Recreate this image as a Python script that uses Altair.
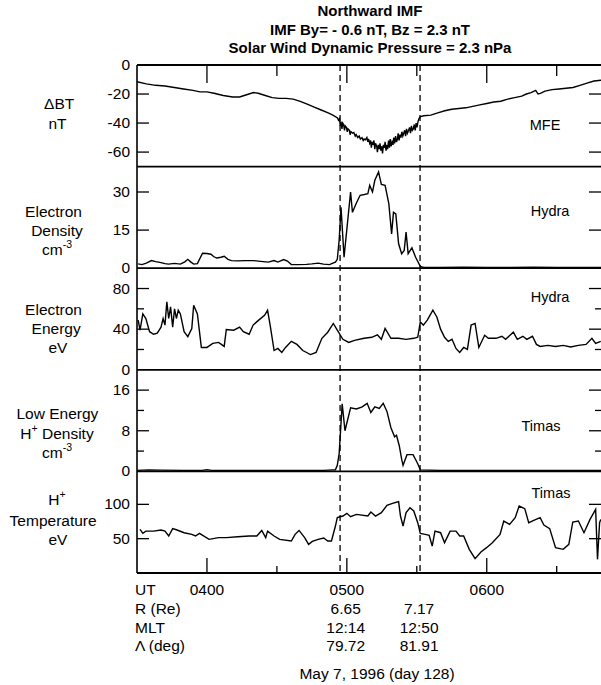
import altair as alt
import pandas as pd

FONT = "Liberation Sans"

# ---- time series (UT in minutes after 00:00) ----
bt_ut = [210, 214, 218, 222, 226, 230, 234, 237, 240, 243, 247, 251, 254, 257, 260, 262, 265, 268,
         271, 274, 277, 280, 283, 286, 289, 292, 294,
         296, 296.4, 296.8, 297.2, 297.5, 297.9, 298.2, 298.6, 299, 299.3, 299.8, 300.2, 300.5,
         301.1, 301.4, 301.8, 302.5, 303, 303.6, 304, 304.7, 305.3, 305.8, 306.5, 307, 307.4, 308,
         308.6, 309, 309.3, 309.8, 310.2, 310.5, 310.9, 311.3, 311.6, 312, 312.3, 312.8, 313.1,
         313.5, 313.9, 314.2, 314.6, 315, 315.3, 315.7, 316.1, 316.4, 316.8, 317.2, 317.5, 317.9,
         318.3, 318.6, 319, 319.4, 319.8, 320.1, 320.5, 320.9, 321.3, 321.7, 322, 322.4, 322.8,
         323.2, 323.6, 324, 324.4, 324.8, 325.2, 325.6, 326, 326.5, 326.9, 327.3, 327.7, 328.1,
         328.5, 328.9, 329.3, 329.7, 330.1, 330.5, 330.9, 331.3, 331.6,
         333, 336, 339, 342, 345, 348, 351, 354, 357, 360, 363, 366, 369, 372,
         375, 377, 379, 381, 382, 383, 385, 388, 391, 394, 397, 400, 403, 406, 409]
bt_nt = [-11.5, -13, -14, -14.5, -15.5, -16.5, -17.5, -18.5, -18.5, -19.5, -21, -22, -22, -20.5,
         -19, -19.5, -21, -22.5, -23, -23, -23.5, -25, -27, -29, -31, -33, -34.5,
         -36.5, -38, -37, -42, -39, -44, -40, -41, -45, -42, -43, -46, -44,
         -45, -48, -46, -47, -46.5, -49, -48, -50, -49, -51, -50, -52, -51, -51.5,
         -50, -53, -51, -54, -52, -57, -53, -55, -52, -58, -54, -56, -60,
         -55, -58, -54, -59, -56, -61, -55, -57, -53, -59, -55, -58, -52,
         -57, -51, -56, -53, -55, -50, -54, -49, -53, -51, -47, -52, -48,
         -50, -46, -49, -47, -45, -49, -44, -47, -45, -43, -47, -42, -45,
         -44, -41, -45, -40, -43, -39, -37, -36, -35.5,
         -35, -34.5, -33, -31.5, -30.5, -30, -29.5, -28.5, -27.5, -26.5, -25.5, -25, -23.5, -22.5,
         -21.5, -20, -19, -17.5, -20, -19.5, -18, -17, -16.5, -16, -15.5, -14, -12.5, -11, -10.5]

ne_ut = [210.5, 212.1, 214, 216.2, 218, 220.3, 222, 223.6, 226, 228.6, 230.5, 231.8, 233, 234.3,
         235.9, 238.1, 240, 241.7, 243, 244.2, 246, 247.4, 249, 250.5, 253, 256.5, 259.8, 263,
         266.3, 268.8, 270.4, 272.9, 274.5, 276.2, 279, 282.7, 285, 287.7, 290, 292.6, 294, 295.1,
         295.9, 296.7, 297.5, 298.8, 301.6, 302.4, 304, 305.7, 307.5, 309, 309.8, 311, 312, 313.6,
         314.8, 316.4, 318, 319.2, 320, 321, 322.2, 323.5, 324.6, 325.4, 326.3, 327.9, 329.5,
         331.5, 333, 340, 350, 360, 370, 380, 390, 400, 409]
ne_cm3 = [1.7, 1.4, 2, 3, 2.6, 2.2, 1.8, 1.6, 1.9, 1.6, 2.5, 3.5, 2.5, 1.6, 1.8, 5.9, 5.8, 5.5, 4.5,
          4, 4.3, 4.7, 3.5, 3, 2.9, 3, 3, 2.7, 2.4, 3, 2.4, 3.4, 2.8, 1.4, 1.4, 1.5, 1.7, 2, 1.6,
          1.4, 2, 2.4, 3.5, 11, 24, 4.3, 30, 22, 25.5, 28.7, 29, 29.3, 32.6, 30, 34.6, 37.9, 33,
          32.6, 25.4, 13.5, 22, 21.4, 9.6, 5.7, 7, 14.2, 5.7, 8, 4.3, 0.7, 0.3, 0.3, 0.35, 0.3,
          0.3, 0.35, 0.3, 0.3, 0.3]

ee_ut = [210.5, 211.3, 212.5, 213.8, 215.4, 217.1, 218.7, 220.3, 221.2, 222, 222.8, 223.6, 224.4,
         225.3, 226.1, 226.9, 227.7, 228.6, 230.2, 231.8, 233.5, 234.3, 235.9, 237.6, 240, 242.5,
         245, 247.4, 248.3, 251.5, 254, 255.6, 258.1, 259.8, 262.2, 264.7, 266, 267.1, 268.8,
         270.4, 272.1, 273.7, 276.2, 278.6, 281.1, 284.4, 286.8, 289.3, 291.8, 294.2, 295.9,
         298.3, 300.8, 303.3, 307.4, 310.7, 313.1, 314.8, 316.4, 318.9, 322.2, 325.4, 328.7,
         330.4, 331.5, 332.8, 334.5, 336.9, 338.6, 340.2, 341.9, 343.5, 345.1, 346.8, 348.4,
         350.1, 351.7, 353.3, 355, 356.6, 359.1, 360.7, 364, 366.5, 368.1, 371.4, 373.1, 375.5,
         377.2, 379.6, 381.3, 382.9, 386.2, 389.5, 392.8, 396, 399.3, 402.6, 405.1, 406.7, 408.9]
ee_ev = [48.9, 39, 55, 50.5, 37.5, 35, 36, 42, 50.5, 44, 66.8, 50.5, 62, 42, 60, 50.5, 58.6, 55,
         37.5, 32.6, 40.7, 63.5, 55, 22, 22, 26, 27, 23, 39.7, 39, 42, 37.5, 35, 44, 48.9, 53.7,
         58.6, 44, 19, 21, 17, 22, 28, 25, 19, 15, 17, 31, 37, 45.6, 39, 30, 27, 29, 31, 32, 34.5,
         30, 40.7, 31, 31, 30, 31, 32, 47, 44, 48.9, 58.6, 52, 40, 32, 28, 30, 21, 17, 22, 20, 44,
         45.6, 22, 34, 31, 31, 33, 30, 37, 30, 33, 30, 33, 25, 23, 24, 23, 24, 22.5, 24, 25, 31,
         26, 28]

hd_ut = [210, 215, 220, 230, 238, 240, 242, 260, 280, 290, 294, 295.1, 295.9, 296.7, 298, 299.2,
         301.6, 304.1, 306.6, 308.7, 310.3, 312, 313.9, 315.6, 317.2, 318.9, 320.5, 321.3, 322.5,
         323.5, 324.1, 325.8, 328.4, 330.4, 331.5, 340, 360, 380, 409]
hd_cm3 = [0.2, 0.3, 0.25, 0.2, 0.2, 0.35, 0.2, 0.2, 0.2, 0.2, 0.3, 0.3, 1.2, 3.5, 13.3, 8, 12.5,
          12.3, 12.7, 13.4, 11.6, 12.7, 12.4, 13.4, 11.8, 8.6, 6.8, 7.1, 5, 2.4, 1.2, 3.3, 3.3,
          1.5, 0.3, 0.2, 0.2, 0.2, 0.2]

ht_ut = [211.3, 212.5, 213.8, 217.1, 220.3, 222, 223.6, 225.3, 226.9, 230.2, 233.5, 235.1, 236.8,
         240.9, 245, 248.3, 253.2, 258.1, 261.4, 263.5, 265.2, 266, 268.8, 271.2, 276.2, 277.8,
         279.5, 281.9, 283.6, 285.2, 287.7, 290.1, 291.8, 293.4, 295.1, 295.9, 298.3, 300, 301.6,
         304.1, 309, 310.3, 312.3, 314.8, 317.2, 320.5, 322.2, 323, 324.1, 325.4, 327.1, 328.7,
         330.4, 331.5, 333.6, 335.3, 336.6, 337.8, 340.2, 341.9, 344.3, 346.8, 348.4, 350.1,
         352.5, 355, 357.5, 359.9, 362.4, 365.7, 367.3, 369.8, 372.2, 373.9, 376.3, 378, 380.4,
         382.9, 384.5, 387, 389.5, 392.8, 395.2, 396.9, 399.3, 401.7, 404.3, 406.7, 407.5,
         408.4, 408.9]
ht_ev = [63.6, 57.8, 61, 61, 62.6, 61, 53.9, 64.6, 63, 58.7, 56.3, 53.9, 57.8, 49, 51.5, 51.5,
         52.9, 53.9, 53.9, 62, 51.5, 61, 53.9, 49, 46.6, 56.3, 62, 51.5, 41.7, 46, 49, 51, 46.6,
         46.6, 68.4, 80.6, 83, 86.9, 82, 85.4, 83, 88.8, 83, 87.9, 98.5, 102.4, 103.9, 83, 68.4,
         87.9, 95.1, 90.3, 73.3, 57.8, 56.3, 55, 39.3, 61, 58.7, 44.2, 61, 61, 53.9, 53.9, 34.5,
         20.9, 30.6, 36.9, 44.2, 56.3, 75.7, 70.9, 80.6, 97.6, 93.7, 73.3, 77, 80.6, 69.9, 64.6,
         36.9, 34.5, 41.7, 74.3, 75.7, 58.7, 78.1, 92.7, 19.9, 73.3, 78]

# boundary crossings and orbit annotations
boundary_ut = [297.1, 331.4]
orbit_ut = [299.5, 331.0]
orbit_r = ["6.65", "7.17"]
orbit_mlt = ["12:14", "12:50"]
orbit_lat = ["79.72", "81.91"]

ut_major = [240, 300, 360]
ut_major_lab = ["0400", "0500", "0600"]
ut_minor = [270, 330, 390]

# ---- layout ----
W, H = 464, 508
NP = 5
PH = H / NP
FS = 15.5
SUP = 10.5
X = alt.Scale(domain=[210, 409], nice=False, zero=False)

# approximate advance widths (em) of the sans font, for placing superscripts
ADV = {"c": .5, "m": .833, "-": .333, "3": .556, "H": .722, "+": .584, " ": .278, "D": .722,
       "e": .556, "n": .556, "s": .5, "i": .222, "t": .278, "y": .5}


def width(s, size):
    return sum(ADV.get(ch, .556) for ch in s) * size


def xq():
    return alt.X("t:Q", scale=X, axis=None)


def txt(text, x, y, align="center", size=FS, weight="normal", dy=0):
    return alt.Chart(pd.DataFrame({"s": [text]})).mark_text(
        font=FONT, fontSize=size, fontWeight=weight, align=align, baseline="middle",
        color="black", dy=dy
    ).encode(x=alt.value(x), y=alt.value(y), text="s:N")


def rich(parts, cx, y):
    """Centered line made of normal and superscript pieces."""
    total = sum(width(s, SUP if sup else FS) for s, sup in parts)
    x = cx - total / 2
    out = []
    for s, sup in parts:
        size = SUP if sup else FS
        lead = len(s) - len(s.lstrip(" "))
        x += width(" " * lead, size)
        body = s.strip(" ")
        out.append(txt(body, x, y, align="left", size=size, dy=-5 if sup else 0))
        x += width(body, size)
    return out


def panel(i, ut, val, domain, labels, major, minor, title_lines, inst, inst_xy):
    top, bot = i * PH, (i + 1) * PH
    ys = alt.Scale(domain=domain, range=[bot, top], nice=False, zero=False)

    def yq():
        return alt.Y("v:Q", scale=ys, axis=None)

    layers = [
        alt.Chart(pd.DataFrame({"t": ut, "v": val}))
        .mark_line(color="black", strokeWidth=1.4, clip=True)
        .encode(x=xq(), y=yq())
    ]
    mdf = pd.DataFrame({"v": major})
    layers.append(alt.Chart(mdf).mark_rule(color="black", strokeWidth=1.3)
                  .encode(x=alt.value(0), x2=alt.value(12), y=yq()))
    layers.append(alt.Chart(mdf).mark_rule(color="black", strokeWidth=1.3)
                  .encode(x=alt.value(W - 12), x2=alt.value(W), y=yq()))
    if minor:
        ndf = pd.DataFrame({"v": minor})
        layers.append(alt.Chart(ndf).mark_rule(color="black", strokeWidth=1.3)
                      .encode(x=alt.value(0), x2=alt.value(7), y=yq()))
        layers.append(alt.Chart(ndf).mark_rule(color="black", strokeWidth=1.3)
                      .encode(x=alt.value(W - 6), x2=alt.value(W), y=yq()))
    ldf = pd.DataFrame({"v": labels, "s": [f"{v:g}" for v in labels]})
    layers.append(alt.Chart(ldf).mark_text(font=FONT, fontSize=FS, align="right",
                                           baseline="middle", color="black")
                  .encode(x=alt.value(-7), y=yq(), text="s:N"))
    for parts, yy in title_lines:
        layers += rich(parts, -80, yy)
    layers.append(txt(inst, inst_xy[0], inst_xy[1], size=14.5))
    return alt.layer(*layers)


CM3 = [("cm", False), ("-3", True)]
panels = [
    panel(0, bt_ut, bt_nt, [-70, 0], [0, -20, -40, -60], [-20, -40, -60], [],
          [([("ΔBT", False)], 39), ([("nT", False)], 59)], "MFE", (408, 61)),
    panel(1, ne_ut, ne_cm3, [0, 40], [0, 15, 30], [15, 30], [],
          [([("Electron", False)], 147), ([("Density", False)], 165.5), (CM3, 185)],
          "Hydra", (413, 147)),
    panel(2, ee_ut, ee_ev, [0, 100], [0, 40, 80], [40, 80], [20, 60],
          [([("Electron", False)], 245), ([("Energy", False)], 264), ([("eV", False)], 283)],
          "Hydra", (413, 233)),
    panel(3, hd_ut, hd_cm3, [0, 20], [0, 8, 16], [8, 16], [4, 12],
          [([("Low Energy", False)], 349), ([("H", False), ("+", True), (" Density", False)], 369),
           (CM3, 387.5)],
          "Timas", (404, 362)),
    panel(4, ht_ut, ht_ev, [0, 148], [50, 100], [50, 100], [],
          [([("H", False), ("+", True)], 435), ([("Temperature", False)], 455.5),
           ([("eV", False)], 474.5)],
          "Timas", (414, 429)),
]

frame = []
# panel separators and outer frame
for k in range(NP + 1):
    frame.append(alt.Chart(pd.DataFrame({"d": [0]})).mark_rule(color="black", strokeWidth=1.8)
                 .encode(x=alt.value(0), x2=alt.value(W), y=alt.value(k * PH)))
frame.append(alt.Chart(pd.DataFrame({"d": [0]})).mark_rule(color="black", strokeWidth=1.6)
             .encode(x=alt.value(0), y=alt.value(0), y2=alt.value(H)))

# UT ticks on top and bottom edges
maj = pd.DataFrame({"t": ut_major, "s": ut_major_lab})
mnr = pd.DataFrame({"t": ut_minor})
frame += [
    alt.Chart(maj).mark_rule(color="black", strokeWidth=1.3).encode(x=xq(), y=alt.value(0), y2=alt.value(18)),
    alt.Chart(mnr).mark_rule(color="black", strokeWidth=1.3).encode(x=xq(), y=alt.value(0), y2=alt.value(11)),
    alt.Chart(maj).mark_rule(color="black", strokeWidth=1.3).encode(x=xq(), y=alt.value(H - 15), y2=alt.value(H)),
    alt.Chart(mnr).mark_rule(color="black", strokeWidth=1.3).encode(x=xq(), y=alt.value(H - 7), y2=alt.value(H)),
]

# boundary crossings
frame.append(alt.Chart(pd.DataFrame({"t": boundary_ut}))
             .mark_rule(color="black", strokeWidth=1.3, strokeDash=[6, 4])
             .encode(x=xq(), y=alt.value(0), y2=alt.value(H)))

# bottom annotation rows
row_y = [525, 543.5, 562.5, 581]
frame.append(alt.Chart(maj).mark_text(font=FONT, fontSize=FS, baseline="middle", color="black")
             .encode(x=xq(), y=alt.value(row_y[0]), text="s:N"))
for vals, yy in zip([orbit_r, orbit_mlt, orbit_lat], row_y[1:]):
    frame.append(alt.Chart(pd.DataFrame({"t": orbit_ut, "s": vals}))
                 .mark_text(font=FONT, fontSize=FS, baseline="middle", color="black")
                 .encode(x=xq(), y=alt.value(yy), text="s:N"))
for s, yy in zip(["UT", "R (Re)", "MLT", "Λ (deg)"], row_y):
    frame.append(txt(s, -2, yy, align="left"))
frame.append(txt("May 7, 1996 (day 128)", 240, 608.5))

# header
for s, yy in [("Northward IMF", -54), ("IMF By= - 0.6 nT, Bz = 2.3 nT", -35.5),
              ("Solar Wind Dynamic Pressure = 2.3 nPa", -17)]:
    frame.append(txt(s, 233, yy, size=15, weight="bold"))

chart = (
    alt.layer(*panels, *frame)
    .resolve_scale(y="independent")
    .properties(width=W, height=H, autosize=alt.AutoSizeParams(type="none"),
                padding={"left": 137, "top": 65, "right": 0, "bottom": 112},
                background="white")
    .configure_view(stroke=None)
)

chart.save("out.html", embed_options={"renderer": "svg", "actions": False})
